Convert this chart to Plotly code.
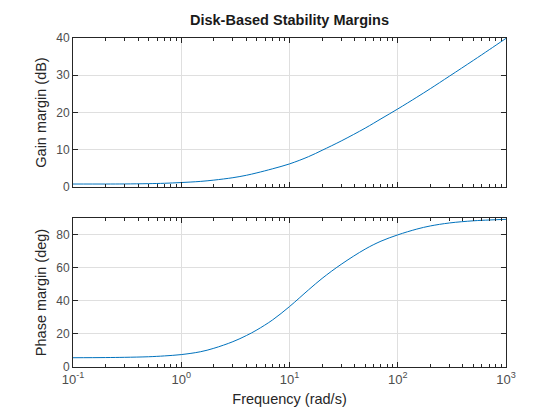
import plotly.graph_objects as go
from plotly.subplots import make_subplots

# values
freq = [0.1, 0.2, 0.3, 0.5, 0.7, 1, 1.5, 2, 3, 4, 5, 7, 10, 15, 20, 30, 50, 70,
        100, 150, 200, 300, 500, 700, 1000]
gain_db = [0.8, 0.8, 0.82, 0.9, 1.0, 1.2, 1.5, 1.85, 2.5, 3.15, 3.8, 4.9, 6.2,
           8.15, 9.85, 12.35, 15.8, 18.3, 20.95, 24.1, 26.4, 29.75, 34.0, 36.85, 39.9]
phase_deg = [5.6, 5.7, 5.85, 6.2, 6.7, 7.5, 9.2, 11.3, 15.3, 19.0, 22.4, 28.5, 36.5,
             46.6, 53.5, 62.0, 71.2, 76.0, 79.8, 83.3, 85.2, 87.0, 88.3, 88.8, 89.2]

decades = [0.1, 1, 10, 100, 1000]
decade_labels = ["10<sup>-1</sup>", "10<sup>0</sup>", "10<sup>1</sup>",
                 "10<sup>2</sup>", "10<sup>3</sup>"]
minor_vals = [m * d for d in decades[:-1] for m in range(2, 10)]

LINE = "#0072BD"
AX = "#262626"
TICK = "#4d4d4d"
GRID = "#dfdfdf"
FONT = "Liberation Sans, Arial, sans-serif"

fig = make_subplots(rows=2, cols=1, shared_xaxes=True, vertical_spacing=31 / 329)
fig.add_trace(go.Scatter(x=freq, y=gain_db, mode="lines", line=dict(color=LINE, width=1, shape="spline")),
              row=1, col=1)
fig.add_trace(go.Scatter(x=freq, y=phase_deg, mode="lines", line=dict(color=LINE, width=1, shape="spline")),
              row=2, col=1)

common_x = dict(
    type="log", range=[-1, 3], tickvals=decades, ticktext=decade_labels,
    ticks="inside", ticklen=5, tickcolor=AX, showline=True, linecolor=AX, linewidth=1,
    mirror="ticks", showgrid=True, gridcolor=GRID, zeroline=False,
    minor=dict(tickvals=minor_vals, ticks="inside", ticklen=3, tickcolor=AX, showgrid=False),
    tickfont=dict(size=13, color=TICK, family=FONT),
)
common_y = dict(
    ticks="inside", ticklen=5, tickcolor=AX, showline=True, linecolor=AX, linewidth=1,
    mirror="ticks", showgrid=True, gridcolor=GRID, zeroline=False,
    tickfont=dict(size=12, color=TICK, family=FONT),
)
fig.update_xaxes(**common_x)
fig.update_xaxes(showticklabels=False, row=1, col=1)
fig.update_xaxes(title=dict(text="Frequency (rad/s)", font=dict(size=14.5, color=AX, family=FONT), standoff=8),
                 row=2, col=1)
fig.update_yaxes(**common_y)
fig.update_yaxes(range=[0, 40], tickvals=[0, 10, 20, 30, 40],
                 title=dict(text="Gain margin (dB)", font=dict(size=14.5, color=AX, family=FONT), standoff=6),
                 row=1, col=1)
fig.update_yaxes(range=[0, 90], tickvals=[0, 20, 40, 60, 80],
                 title=dict(text="Phase margin (deg)", font=dict(size=14.5, color=AX, family=FONT), standoff=6),
                 row=2, col=1)

# the page body adds an 8px offset, so left/top margins are trimmed by 8
fig.update_layout(
    width=560, height=420, showlegend=False,
    margin=dict(l=65, r=62, t=30, b=61),
    paper_bgcolor="white", plot_bgcolor="white",
    font=dict(family=FONT, color=AX),
    title=dict(text="<b>Disk-Based Stability Margins</b>", x=(65 + 433 / 2) / 560, xanchor="center",
               y=1 - 12 / 420, yanchor="middle", font=dict(size=14.5, color="#1a1a1a", family=FONT)),
)
fig.write_html("out.html")
